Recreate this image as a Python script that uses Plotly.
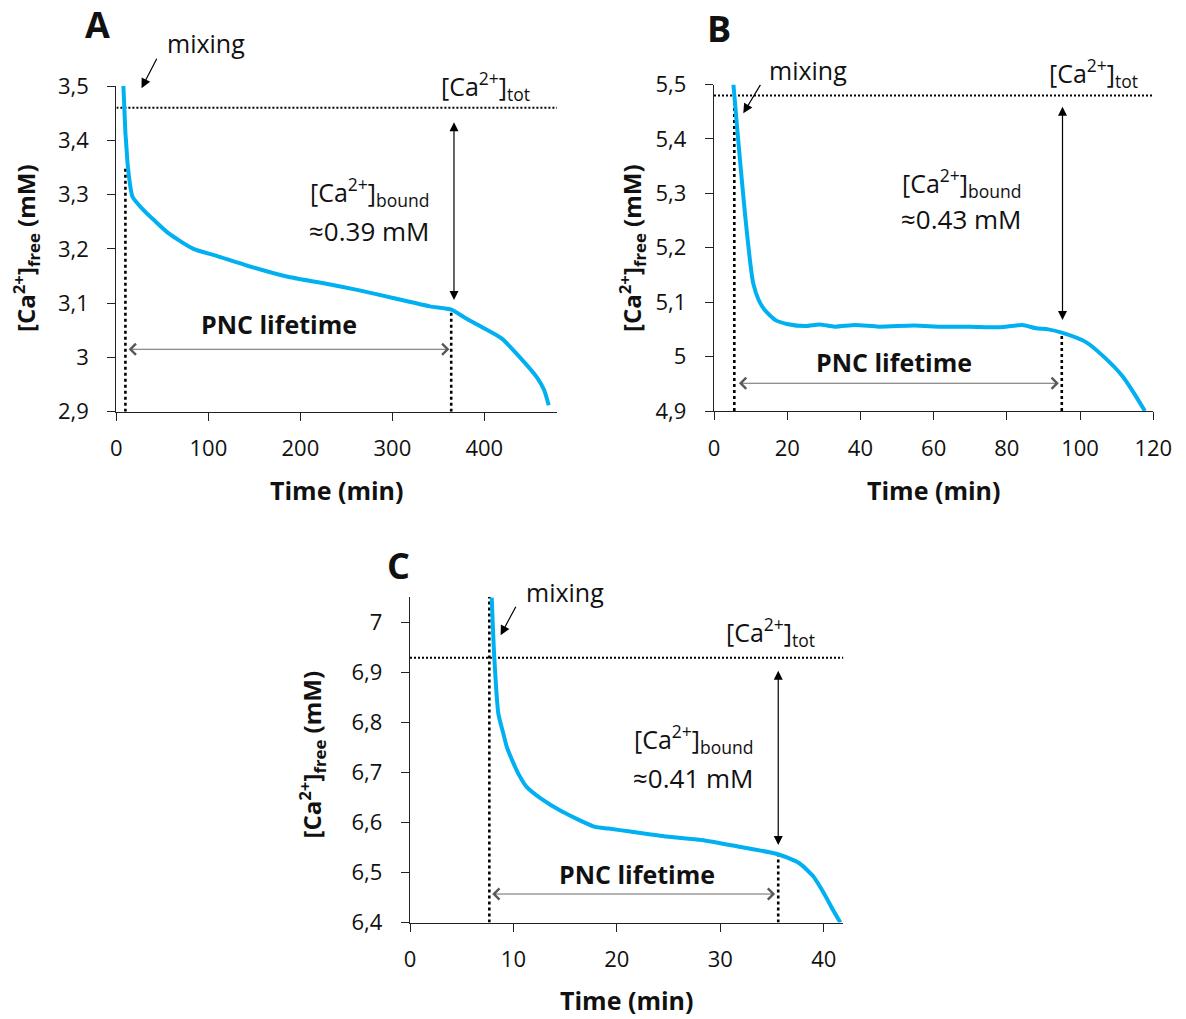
import plotly.graph_objects as go

W, H = 1186, 1019
FONT = "Open Sans"
BLUE = "#00B0F0"

# ---------------- data ----------------
A_time = [7.6, 9.8, 10.4, 12.5, 17.5, 29.2, 40.9, 56.5, 83.7, 107.1, 146.1, 185, 224, 263, 301.9, 340.8, 364.2, 379.8, 399.2, 418.7, 438.2, 457.7, 465, 470]
A_conc = [3.5, 3.413, 3.40, 3.351, 3.296, 3.272, 3.253, 3.229, 3.200, 3.188, 3.167, 3.149, 3.137, 3.124, 3.109, 3.094, 3.088, 3.072, 3.054, 3.035, 3.001, 2.962, 2.94, 2.912]

B_time = [5.3, 6.2, 7.1, 8.5, 9.8, 10.7, 12.2, 13.8, 16.8, 19.9, 25, 28.8, 33, 38.6, 45, 54.6, 62, 70, 78, 84.2, 88, 91.3, 95, 101.5, 106.6, 111.7, 114.8, 117.7]
B_conc = [5.5, 5.43, 5.361, 5.26, 5.178, 5.135, 5.104, 5.086, 5.067, 5.060, 5.056, 5.059, 5.055, 5.058, 5.055, 5.057, 5.055, 5.055, 5.054, 5.058, 5.052, 5.050, 5.044, 5.027, 4.999, 4.963, 4.932, 4.900]

C_time = [7.9, 8.15, 8.54, 9.0, 9.35, 9.87, 10.47, 11.25, 12.6, 14.7, 17.8, 19.2, 21.3, 24.8, 28.2, 31.7, 35.5, 37.6, 39.0, 40.0, 40.9, 41.6]
C_conc = [7.05, 6.93, 6.818, 6.78, 6.752, 6.725, 6.698, 6.672, 6.649, 6.622, 6.592, 6.588, 6.582, 6.572, 6.565, 6.552, 6.537, 6.519, 6.492, 6.459, 6.425, 6.40]

A_xticks = [0, 100, 200, 300, 400]
A_yticks = [2.9, 3.0, 3.1, 3.2, 3.3, 3.4, 3.5]
A_ylabels = ["2,9", "3", "3,1", "3,2", "3,3", "3,4", "3,5"]
B_xticks = [0, 20, 40, 60, 80, 100, 120]
B_yticks = [4.9, 5.0, 5.1, 5.2, 5.3, 5.4, 5.5]
B_ylabels = ["4,9", "5", "5,1", "5,2", "5,3", "5,4", "5,5"]
C_xticks = [0, 10, 20, 30, 40]
C_yticks = [6.4, 6.5, 6.6, 6.7, 6.8, 6.9, 7.0]
C_ylabels = ["6,4", "6,5", "6,6", "6,7", "6,8", "6,9", "7"]

# key values per panel: total Ca, mixing time, end of PNC lifetime, conc at end
A_tot, A_tmix, A_tend, A_cend = 3.46, 9.8, 364, 3.088
B_tot, B_tmix, B_tend, B_cend = 5.48, 5.55, 95, 5.044
C_tot, C_tmix, C_tend, C_cend = 6.93, 7.67, 35.6, 6.537
A_bound, B_bound, C_bound = "≈0.39 mM", "≈0.43 mM", "≈0.41 mM"


def fx(px):
    return px / W


def fy(py):
    return 1 - py / H


panels = [
    dict(key="A", t=A_time, c=A_conc, xt=A_xticks, yt=A_yticks, yl=A_ylabels,
         xr=[0, 479], yr=[2.9, 3.5], dom=(116.4, 557, 86, 411.7),
         tot=A_tot, tmix=A_tmix, mixtop=3.35, tend=A_tend, cend=A_cend, bound=A_bound,
         life=(11.7, 362, 3.015), varrow=(367, 3.436, 3.106),
         mixhead=(27.3, 3.496), mixoff=(16, -31),
         letter=(97, 25), mixtxt=(206, 43), tottxt=(485, 86), boundtxt1=(369, 192),
         boundtxt2=(369, 231), pnctxt=(278.5, 324), ytitle=(26, 248), xtitle=(336.7, 490)),
    dict(key="B", t=B_time, c=B_conc, xt=B_xticks, yt=B_yticks, yl=B_ylabels,
         xr=[0, 120], yr=[4.9, 5.5], dom=(714, 1153.3, 84.5, 411),
         tot=B_tot, tmix=B_tmix, mixtop=B_tot, tend=B_tend, cend=B_cend, bound=B_bound,
         life=(6.4, 94.2, 4.951), varrow=(95.2, 5.462, 5.067),
         mixhead=(8.0, 5.447), mixoff=(18, -30),
         letter=(719, 29), mixtxt=(808, 70), tottxt=(1093.5, 73), boundtxt1=(961, 183),
         boundtxt2=(961, 219), pnctxt=(894, 362), ytitle=(632, 248), xtitle=(933.7, 490)),
    dict(key="C", t=C_time, c=C_conc, xt=C_xticks, yt=C_yticks, yl=C_ylabels,
         xr=[0, 41.9], yr=[6.4, 7.052], dom=(410, 843.4, 596.7, 922.5),
         tot=C_tot, tmix=C_tmix, mixtop=7.052, tend=C_tend, cend=C_cend, bound=C_bound,
         life=(7.8, 35.3, 6.457), varrow=(35.6, 6.907, 6.555),
         mixhead=(8.76, 6.975), mixoff=(16, -30),
         letter=(398, 565), mixtxt=(565, 592), tottxt=(770, 632), boundtxt1=(694, 739),
         boundtxt2=(694, 778), pnctxt=(637, 874), ytitle=(311.5, 755), xtitle=(626.7, 1000)),
]

fig = go.Figure()
annotations = []
layout_axes = {}

for i, p in enumerate(panels):
    n = "" if i == 0 else str(i + 1)
    xa, ya = "x" + n, "y" + n
    x0, x1, y0, y1 = p["dom"]
    # dotted total line
    fig.add_trace(go.Scatter(x=p["xr"], y=[p["tot"], p["tot"]], mode="lines", xaxis=xa, yaxis=ya,
                             line=dict(color="black", width=2, dash="2px,2px"), hoverinfo="skip"))
    # dotted vertical at mixing
    fig.add_trace(go.Scatter(x=[p["tmix"], p["tmix"]], y=[p["yr"][0], p["mixtop"]], mode="lines",
                             xaxis=xa, yaxis=ya, line=dict(color="black", width=2.6, dash="3px,3px"),
                             hoverinfo="skip"))
    # dotted vertical at lifetime end
    fig.add_trace(go.Scatter(x=[p["tend"], p["tend"]], y=[p["yr"][0], p["cend"]], mode="lines",
                             xaxis=xa, yaxis=ya, line=dict(color="black", width=2.6, dash="3px,3px"),
                             hoverinfo="skip"))
    # data curve
    fig.add_trace(go.Scatter(x=p["t"], y=p["c"], mode="lines", xaxis=xa, yaxis=ya,
                             line=dict(color=BLUE, width=4, shape="spline", smoothing=0.6),
                             cliponaxis=True))

    axis_common = dict(showgrid=False, zeroline=False, showline=True, linecolor="#222",
                       linewidth=1.4, ticks="outside", ticklen=8, tickwidth=1.4, tickcolor="#222",
                       automargin=False,
                       tickfont=dict(family=FONT, size=22, color="#111"))
    layout_axes["xaxis" + n] = dict(axis_common, domain=[fx(x0), fx(x1)], range=p["xr"],
                                    anchor=ya, tickvals=p["xt"], ticktext=[str(v) for v in p["xt"]],
                                    ticklabelstandoff=9)
    layout_axes["yaxis" + n] = dict(axis_common, domain=[fy(y1), fy(y0)], range=p["yr"],
                                    anchor=xa, tickvals=p["yt"], ticktext=p["yl"],
                                    ticklabelstandoff=14)

    def txt(pos, text, size, bold=False, angle=0):
        annotations.append(dict(x=fx(pos[0]), y=fy(pos[1]), xref="paper", yref="paper",
                                text=("<b>%s</b>" % text) if bold else text, showarrow=False,
                                textangle=angle, xanchor="center", yanchor="middle",
                                font=dict(family=FONT, size=size, color="#111")))

    txt(p["letter"], p["key"], 36, bold=True)
    txt(p["mixtxt"], "mixing", 25)
    txt(p["tottxt"], "[Ca<sup>2+</sup>]<sub>tot</sub>", 25)
    txt(p["boundtxt1"], "[Ca<sup>2+</sup>]<sub>bound</sub>", 25)
    txt(p["boundtxt2"], p["bound"], 26)
    txt(p["pnctxt"], "PNC lifetime", 25, bold=True)
    txt(p["ytitle"], "[Ca<sup>2+</sup>]<sub>free</sub> (mM)", 24, bold=True, angle=-90)
    txt(p["xtitle"], "Time (min)", 25, bold=True)

    # mixing arrow
    annotations.append(dict(x=p["mixhead"][0], y=p["mixhead"][1], xref=xa, yref=ya, text="",
                            showarrow=True, ax=p["mixoff"][0], ay=p["mixoff"][1],
                            axref="pixel", ayref="pixel", arrowhead=2, arrowsize=1.6,
                            arrowwidth=1.2, arrowcolor="black", standoff=0))
    # PNC lifetime double arrow
    lx0, lx1, ly = p["life"]
    annotations.append(dict(x=lx1, y=ly, xref=xa, yref=ya, ax=lx0, ay=ly, axref=xa, ayref=ya,
                            text="", showarrow=True, arrowside="end+start", arrowhead=4,
                            startarrowhead=4, arrowsize=2.4, startarrowsize=2.4, arrowwidth=0.9,
                            arrowcolor="#595959", standoff=0, startstandoff=0))
    # bound double arrow
    vx, vtop, vbot = p["varrow"]
    annotations.append(dict(x=vx, y=vbot, xref=xa, yref=ya, ax=vx, ay=vtop, axref=xa, ayref=ya,
                            text="", showarrow=True, arrowside="end+start", arrowhead=2,
                            startarrowhead=2, arrowsize=1.5, startarrowsize=1.5, arrowwidth=1.2,
                            arrowcolor="black", standoff=0, startstandoff=0))

fig.update_layout(width=W, height=H, margin=dict(l=0, r=0, t=0, b=0, pad=0, autoexpand=False),
                  plot_bgcolor="white", paper_bgcolor="white", showlegend=False,
                  annotations=annotations, **layout_axes)

fig.write_html("out.html", config={"displayModeBar": False},
               post_script="document.body.style.margin='0';document.body.style.overflow='hidden';")
